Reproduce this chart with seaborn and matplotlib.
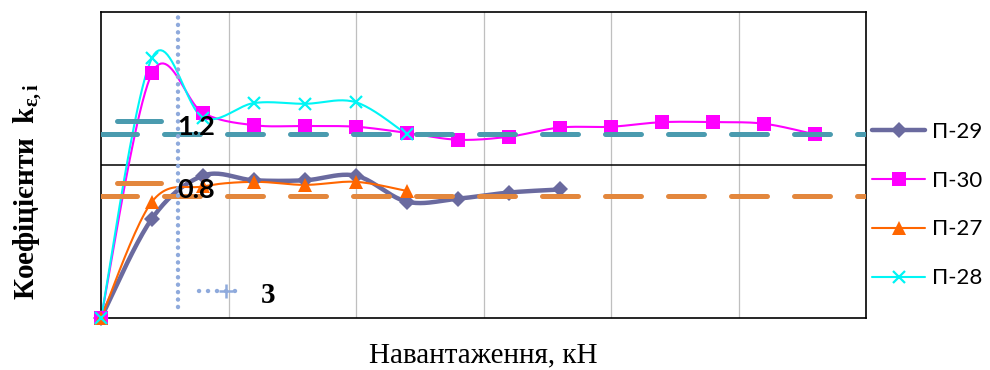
import numpy as np
import pandas as pd
import matplotlib
matplotlib.use("Agg")
import matplotlib.pyplot as plt
import matplotlib.transforms as mtransforms
from matplotlib.lines import Line2D
import seaborn as sns

# ---------------- data ----------------
load_kN = [0, 2, 4, 6, 8, 10, 12, 14, 16, 18, 20, 22, 24, 26, 28]
series_names = ["П-29", "П-30", "П-27", "П-28"]
k_p29 = [0.00, 0.65, 0.93, 0.90, 0.90, 0.93, 0.76, 0.78, 0.82, 0.84]
k_p30 = [0.00, 1.60, 1.34, 1.26, 1.255, 1.25, 1.21, 1.165, 1.185, 1.245,
         1.25, 1.28, 1.28, 1.27, 1.20]
k_p27 = [0.00, 0.76, 0.86, 0.89, 0.87, 0.89, 0.83]
k_p28 = [0.00, 1.70, 1.31, 1.405, 1.40, 1.41, 1.20]
ref_high = 1.2
ref_low = 0.8
ref_load = 3
ref_load_span = [0.07, 2.0]
ref_high_label = "1.2"
ref_low_label = "0.8"
ref_load_label = "3"
x_limits = [0, 30]
y_limits = [0, 2]
x_grid = [5, 10, 15, 20, 25]
y_grid = [1]
x_label = "Навантаження, кН"
y_label = "Коефіцієнти  k$_{\\mathbf{ε,i}}$"

# ---------------- style ----------------
sns.set_theme(style="white")
plt.rcParams["font.family"] = ["Lato", "DejaVu Sans"]
plt.rcParams["text.color"] = "black"
plt.rcParams["mathtext.fontset"] = "custom"
plt.rcParams["mathtext.rm"] = "Liberation Serif"
plt.rcParams["mathtext.bf"] = "Liberation Serif:bold"
plt.rcParams["mathtext.it"] = "Liberation Serif:italic"

colors = {"П-29": "#6A6A9F", "П-30": "#FF00FF", "П-27": "#FF6600", "П-28": "#00F5F5"}
markers = {"П-29": "D", "П-30": "s", "П-27": "^", "П-28": "x"}
msizes = {"П-29": 8, "П-30": 9.5, "П-27": 10, "П-28": 9}
lwidths = {"П-29": 3.2, "П-30": 1.5, "П-27": 1.5, "П-28": 1.5}
values = {"П-29": k_p29, "П-30": k_p30, "П-27": k_p27, "П-28": k_p28}
teal = "#4A9BAF"
orange_ref = "#E3873D"
dot_blue = "#8FAADC"


def smooth(xs, ys, n=24):
    """Excel-like smoothed line (Catmull-Rom as cubic Bezier)."""
    P = np.column_stack([xs, ys]).astype(float)
    out = []
    m = len(P)
    t = np.linspace(0, 1, n)[:, None]
    for i in range(m - 1):
        p0 = P[i - 1] if i > 0 else P[i]
        p1 = P[i]
        p2 = P[i + 1]
        p3 = P[i + 2] if i + 2 < m else P[i + 1]
        c1 = p1 + (p2 - p0) / 6.0
        c2 = p2 - (p3 - p1) / 6.0
        seg = ((1 - t) ** 3) * p1 + 3 * ((1 - t) ** 2) * t * c1 + 3 * (1 - t) * t ** 2 * c2 + t ** 3 * p2
        out.append(seg if i == 0 else seg[1:])
    out = np.vstack(out)
    return out[:, 0], out[:, 1]


fig = plt.figure(figsize=(9.9, 3.7), dpi=100)
ax = fig.add_axes([101 / 990, 1 - 318 / 370, (866 - 101) / 990, (318 - 12) / 370])
ax.set_xlim(*x_limits)
ax.set_ylim(*y_limits)

# grid
for gx in x_grid:
    ax.axvline(gx, color="#BFBFBF", lw=0.9, zorder=0.5)
for gy in y_grid:
    ax.axhline(gy, color="black", lw=1.1, zorder=0.5)

# series
handles = []
for name in series_names:
    ys = values[name]
    xs = load_kN[: len(ys)]
    sx, sy = smooth(xs, ys)
    df = pd.DataFrame({"load": sx, "k": sy})
    sns.lineplot(data=df, x="load", y="k", ax=ax, color=colors[name], lw=lwidths[name],
                 sort=False, estimator=None, legend=False, zorder=2)
    mkw = dict(marker=markers[name], ms=msizes[name], color=colors[name], ls="none", zorder=3,
               clip_on=False)
    if markers[name] == "x":
        mkw["mew"] = 1.6
    else:
        mkw["mew"] = 0
    ax.plot(xs, ys, **mkw)
    handles.append(Line2D([], [], color=colors[name], lw=lwidths[name], marker=markers[name],
                          ms=msizes[name], mew=mkw["mew"]))

# reference lines
hl = ax.axhline(ref_high, color=teal, lw=3.6, zorder=4)
hl.set_dashes((7.2, 5.4))
hl.set_dash_capstyle("round")
ll = ax.axhline(ref_low, color=orange_ref, lw=3.6, zorder=4)
ll.set_dashes((7.2, 5.4))
ll.set_dash_capstyle("round")
vl, = ax.plot([ref_load, ref_load], ref_load_span, color=dot_blue, lw=3.2, zorder=4)
vl.set_dashes((0.02, 1.65))
vl.set_dash_capstyle("round")


def px_trans(x, y):
    return mtransforms.Affine2D() + mtransforms.ScaledTranslation(x, y, ax.transData)


# data labels with legend keys
ax.plot([-61, -17], [13, 13], color=teal, lw=3.6, solid_capstyle="round",
        transform=px_trans(ref_load, ref_high), zorder=5)
ax.plot([-61, -17], [12.5, 12.5], color=orange_ref, lw=3.6, solid_capstyle="round",
        transform=px_trans(ref_load, ref_low), zorder=5)
ax.text(0, 7, ref_high_label, transform=px_trans(ref_load, ref_high), ha="left", va="center",
        fontsize=19.5, fontweight="bold", color="black", zorder=6)
ax.text(0, 5.5, ref_low_label, transform=px_trans(ref_load, ref_low), ha="left", va="center",
        fontsize=19.5, fontweight="bold", color="black", zorder=6)
kv, = ax.plot([21, 61], [16, 16], color=dot_blue, lw=3.2, transform=px_trans(ref_load, ref_load_span[0]),
              zorder=5)
kv.set_dashes((0.02, 2.0))
kv.set_dash_capstyle("round")
ax.plot([48], [16], marker="+", ms=10, mew=1.8, color=dot_blue,
        transform=px_trans(ref_load, ref_load_span[0]), zorder=5)
ax.text(83, 12, ref_load_label, transform=px_trans(ref_load, ref_load_span[0]), ha="left", va="center",
        fontsize=21, fontweight="bold", family="Liberation Serif", color="black", zorder=6)

# axes cosmetics
ax.set_xticks([])
ax.set_yticks([])
for s in ax.spines.values():
    s.set_color("black")
    s.set_linewidth(1.2)
    s.set_visible(True)
ax.set_xlabel("")
ax.set_ylabel("")
fig.text(483 / 990, 1 - 355 / 370, x_label, ha="center", va="center", fontsize=21,
         family="Liberation Serif", color="black")
fig.text(28 / 990, 1 - 191 / 370, y_label, ha="center", va="center", rotation=90, fontsize=21,
         family="Liberation Serif", fontweight="bold", color="black")

leg = fig.legend(handles, series_names, loc="center left", bbox_to_anchor=(872 / 990, 1 - 205 / 370),
                 frameon=False, fontsize=16, handlelength=2.4, handletextpad=0.3, labelspacing=1.3,
                 borderpad=0, borderaxespad=0)
for t in leg.get_texts():
    t.set_color("black")

fig.savefig("out.png", dpi=100)
